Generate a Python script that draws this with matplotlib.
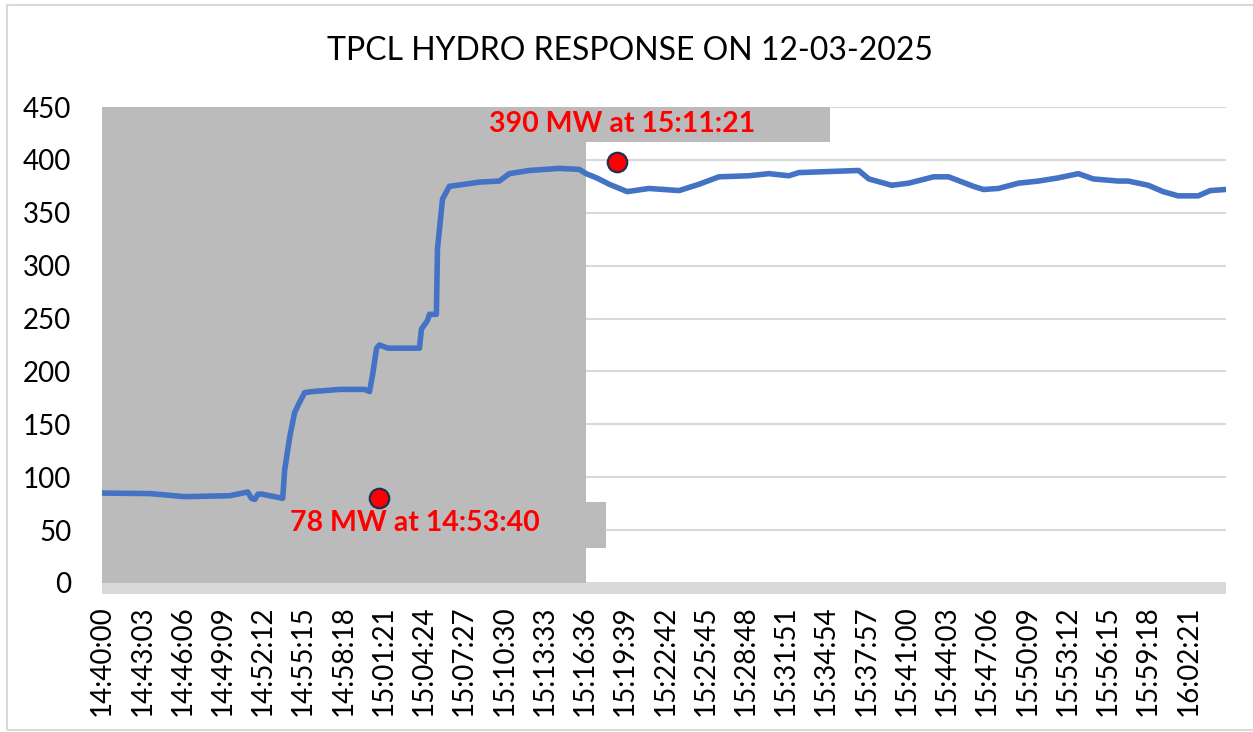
import matplotlib
matplotlib.use("Agg")
import matplotlib.pyplot as plt
from matplotlib.patches import Rectangle

plt.rcParams["font.family"] = ["Lato", "DejaVu Sans"]

# seconds after 14:40:00
t_sec = [0, 218, 377, 581, 663, 680, 695, 710, 727, 808, 822, 831, 854, 876,
         899, 922, 958, 1081, 1194, 1217, 1231, 1249, 1262, 1300, 1444, 1453,
         1480, 1490, 1521, 1526, 1549, 1580, 1650, 1717, 1807, 1853, 1944,
         2080, 2171, 2202, 2250, 2307, 2389, 2488, 2625, 2716, 2806, 2943,
         3033, 3124, 3170, 3306, 3442, 3488, 3592, 3669, 3783, 3851, 3964,
         4010, 4078, 4169, 4260, 4350, 4441, 4509, 4623, 4668, 4759, 4827,
         4895, 4986, 5041, 5109]
mw = [85, 84.5, 81.6, 82.5, 86, 80, 79, 84, 84, 80.6, 80, 107, 138, 161,
      171, 180, 181, 183, 183, 181, 197, 222, 225, 222, 222, 240,
      248, 254, 254, 316, 363, 375, 377, 379, 380, 387, 390,
      392, 391, 387, 383, 377, 370, 373, 371, 377, 384, 385,
      387, 385, 388, 389, 390, 382, 376, 378, 384, 384, 375,
      372, 373, 378, 380, 383, 387, 382, 380, 380, 376, 370,
      366, 366, 371, 372]

# highlighted points (marker positions as drawn)
low_pt = (1262, 80.6)
high_pt = (2343, 398)
low_label = "78 MW at 14:53:40"
high_label = "390 MW at 15:11:21"

shade_end = 2202  # end of grey shaded window (s)

tick_sec = [183 * i for i in range(28)]
tick_labels = ["14:40:00", "14:43:03", "14:46:06", "14:49:09", "14:52:12",
               "14:55:15", "14:58:18", "15:01:21", "15:04:24", "15:07:27",
               "15:10:30", "15:13:33", "15:16:36", "15:19:39", "15:22:42",
               "15:25:45", "15:28:48", "15:31:51", "15:34:54", "15:37:57",
               "15:41:00", "15:44:03", "15:47:06", "15:50:09", "15:53:12",
               "15:56:15", "15:59:18", "16:02:21"]

GREY = "#BBBBBB"
GRID = "#D9D9D9"

fig = plt.figure(figsize=(12.53, 7.32), dpi=100)
ax = fig.add_axes([0.0814, 0.2036, 0.8971, 0.6502])

# chart-area border
fig.patches.append(Rectangle((7 / 1253, 2 / 732), 1.0, 1 - 7 / 732,
                             transform=fig.transFigure, fill=False,
                             edgecolor=GRID, lw=1.5, zorder=0))

ax.set_xlim(0, 5113)
ax.set_ylim(0, 450)
ax.set_yticks(range(0, 451, 50))
ax.grid(axis="y", color=GRID, lw=1.5, zorder=0)
ax.set_axisbelow(True)
for s in ax.spines.values():
    s.set_visible(False)

ax.add_patch(Rectangle((0, 0), shade_end, 450, color=GREY, lw=0, zorder=1))
# label backgrounds
ax.add_patch(Rectangle((560, 33.2), 2293 - 560, 76.8 - 33.2, color=GREY,
                       lw=0, zorder=1))
ax.add_patch(Rectangle((1420, 416.5), 3310 - 1420, 450 - 416.5, color=GREY,
                       lw=0, zorder=1, clip_on=False))
# light band under the axis
ax.add_patch(Rectangle((0, -0.0235), 1.0, 0.0235, transform=ax.transAxes,
                       color=GRID, lw=0, clip_on=False, zorder=1))

ax.plot(t_sec, mw, color="#4472C4", lw=4, solid_joinstyle="round",
        solid_capstyle="round", zorder=3)

for (x, y) in (low_pt, high_pt):
    ax.plot(x, y, "o", ms=14, mfc="#FF0000", mec="#1F2F4F", mew=1.6,
            zorder=4)
ax.text(1425, 57, low_label, color="#FF0000", fontsize=20.5,
        fontweight="bold", ha="center", va="center", zorder=5)
ax.text(2366, 433.5, high_label, color="#FF0000", fontsize=20.5,
        fontweight="bold", ha="center", va="center", zorder=5)

ax.set_xticks(tick_sec)
ax.set_xticklabels(tick_labels, rotation=90, fontsize=20)
ax.tick_params(axis="x", length=0, pad=16)
ax.tick_params(axis="y", length=0, pad=22, labelsize=20)

fig.text(0.503, 0.93, "TPCL HYDRO RESPONSE ON 12-03-2025", ha="center",
         va="center", fontsize=23)

fig.savefig("out.png", dpi=100)
